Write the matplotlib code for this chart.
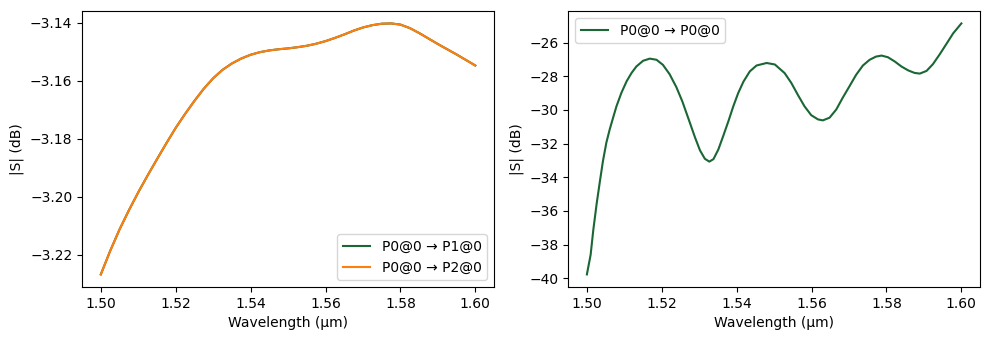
import numpy as np
import matplotlib
matplotlib.use("Agg")
import matplotlib.pyplot as plt

# transmission P0 -> P1 / P0 -> P2 (dB)
wl_t = [1.5000, 1.5025, 1.5050, 1.5075, 1.5100, 1.5125, 1.5150, 1.5175, 1.5200,
        1.5225, 1.5250, 1.5275, 1.5300, 1.5325, 1.5350, 1.5375, 1.5400, 1.5425,
        1.5450, 1.5475, 1.5500, 1.5525, 1.5550, 1.5575, 1.5600, 1.5625, 1.5650,
        1.5675, 1.5700, 1.5725, 1.5750, 1.5775, 1.5800, 1.5825, 1.5850, 1.5875,
        1.5900, 1.5925, 1.5950, 1.5975, 1.6000]
s21 = [-3.2268, -3.2187, -3.2113, -3.2047, -3.1985, -3.1927, -3.1871, -3.1816, -3.1763,
       -3.1715, -3.1670, -3.1628, -3.1592, -3.1563, -3.1541, -3.1524, -3.1511, -3.1502,
       -3.1496, -3.1492, -3.1489, -3.1485, -3.1480, -3.1473, -3.1464, -3.1453, -3.1441,
       -3.1428, -3.1417, -3.1409, -3.1404, -3.1403, -3.1407, -3.1419, -3.1436, -3.1455,
       -3.1474, -3.1492, -3.1510, -3.1529, -3.1548]
s31 = list(s21)

# reflection P0 -> P0 (dB)
wl_r = [1.5000, 1.5010, 1.5017, 1.5026, 1.5035, 1.5043, 1.5052, 1.5061, 1.5070,
        1.5079, 1.5092, 1.5106, 1.5119, 1.5132, 1.5150, 1.5168, 1.5186, 1.5203,
        1.5221, 1.5239, 1.5255, 1.5275, 1.5289, 1.5302, 1.5315, 1.5327, 1.5338,
        1.5351, 1.5364, 1.5378, 1.5391, 1.5404, 1.5418, 1.5435, 1.5453, 1.5480,
        1.5502, 1.5528, 1.5546, 1.5563, 1.5581, 1.5599, 1.5617, 1.5630, 1.5648,
        1.5666, 1.5683, 1.5701, 1.5719, 1.5737, 1.5755, 1.5772, 1.5787, 1.5804,
        1.5822, 1.5840, 1.5858, 1.5875, 1.5889, 1.5907, 1.5924, 1.5942, 1.5960,
        1.5978, 1.6000]
s11 = [-39.77, -38.60, -37.15, -35.58, -34.20, -33.02, -31.94, -31.15, -30.46,
       -29.78, -28.99, -28.30, -27.81, -27.42, -27.08, -26.95, -27.02, -27.32,
       -27.88, -28.65, -29.50, -30.76, -31.65, -32.40, -32.90, -33.07, -32.92,
       -32.35, -31.55, -30.66, -29.78, -29.00, -28.32, -27.71, -27.36, -27.21,
       -27.30, -27.81, -28.40, -29.09, -29.78, -30.31, -30.56, -30.62, -30.46,
       -29.97, -29.28, -28.60, -27.91, -27.36, -27.02, -26.83, -26.77, -26.87,
       -27.12, -27.42, -27.65, -27.80, -27.84, -27.68, -27.28, -26.70, -26.08,
       -25.45, -24.86]

green = "#1a6634"
orange = "#ff7f0e"

fig, (ax1, ax2) = plt.subplots(1, 2, figsize=(9.89, 3.4), dpi=100)
fig.subplots_adjust(left=0.083, right=0.991, top=0.968, bottom=0.156, wspace=0.18)

ax1.plot(wl_t, s21, color=green, label="P0@0 → P1@0")
ax1.plot(wl_t, s31, color=orange, label="P0@0 → P2@0")
ax1.set_xlabel("Wavelength (µm)")
ax1.set_ylabel("|S| (dB)")
ax1.legend(loc="lower right")

ax2.plot(wl_r, s11, color=green, label="P0@0 → P0@0")
ax2.set_xlabel("Wavelength (µm)")
ax2.set_ylabel("|S| (dB)")
ax2.legend(loc="upper left")

for ax in (ax1, ax2):
    ax.set_xticks(np.arange(1.50, 1.601, 0.02))

fig.savefig("out.png", dpi=100)
